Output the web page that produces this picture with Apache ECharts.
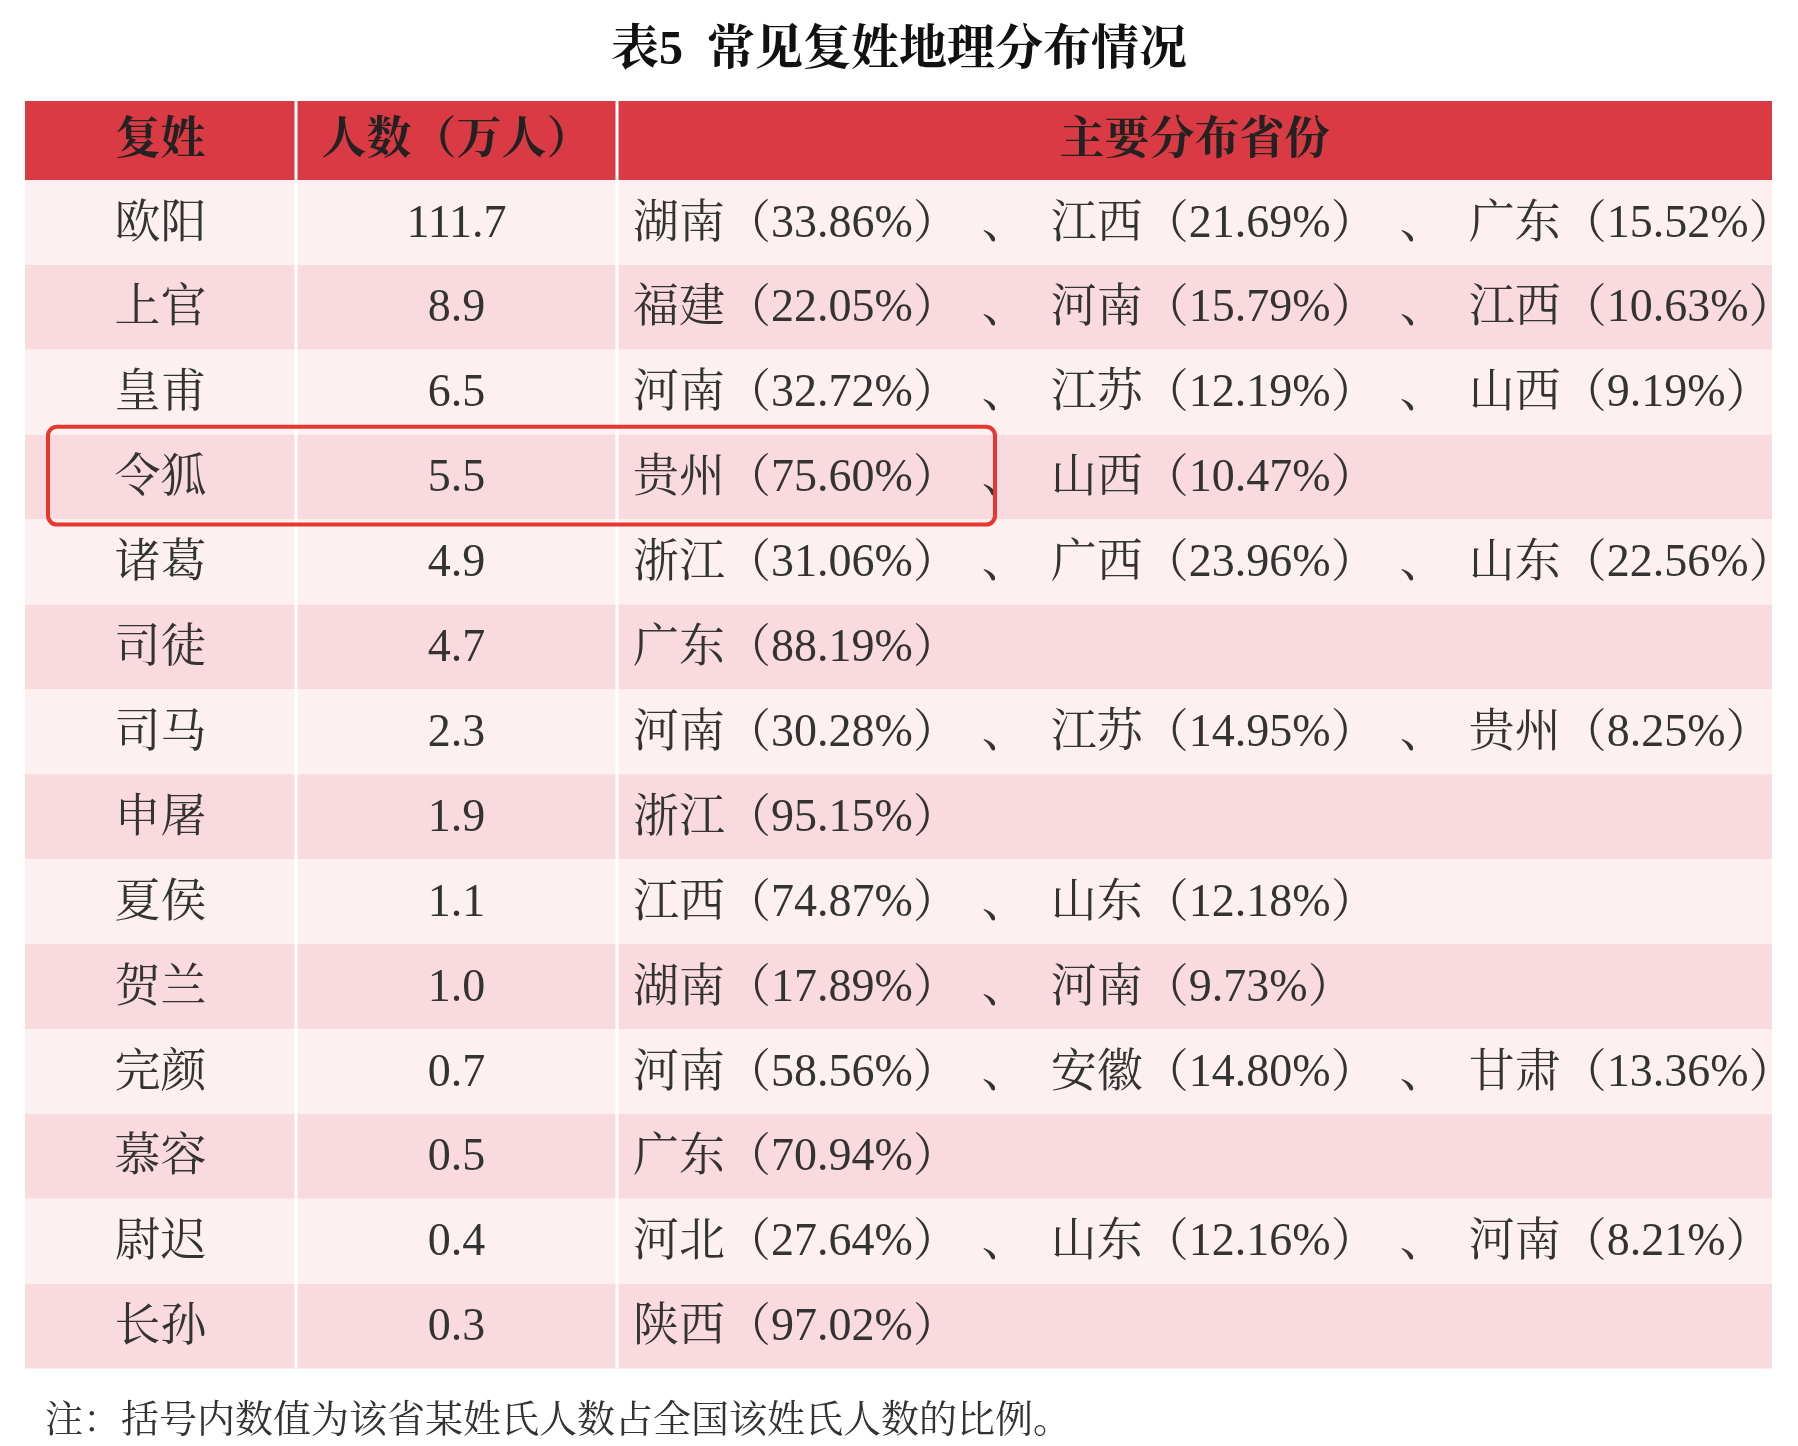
<!DOCTYPE html><html><head><meta charset="utf-8">
<script src="https://cdn.jsdelivr.net/npm/echarts@6/dist/echarts.min.js"></script>
<style>html,body{margin:0;padding:0;background:#fff}#c{width:1798px;height:1446px}</style></head><body><div id="c"></div>
<script>
const title = '表5  常见复姓地理分布情况';
const headers = ['复姓', '人数（万人）', '主要分布省份'];
const surnames = ['欧阳','上官','皇甫','令狐','诸葛','司徒','司马','申屠','夏侯','贺兰','完颜','慕容','尉迟','长孙'];
const population = ['111.7','8.9','6.5','5.5','4.9','4.7','2.3','1.9','1.1','1.0','0.7','0.5','0.4','0.3'];
const provinces = [
 '湖南（33.86%）、江西（21.69%）、广东（15.52%）',
 '福建（22.05%）、河南（15.79%）、江西（10.63%）',
 '河南（32.72%）、江苏（12.19%）、山西（9.19%）',
 '贵州（75.60%）、山西（10.47%）',
 '浙江（31.06%）、广西（23.96%）、山东（22.56%）',
 '广东（88.19%）',
 '河南（30.28%）、江苏（14.95%）、贵州（8.25%）',
 '浙江（95.15%）',
 '江西（74.87%）、山东（12.18%）',
 '湖南（17.89%）、河南（9.73%）',
 '河南（58.56%）、安徽（14.80%）、甘肃（13.36%）',
 '广东（70.94%）',
 '河北（27.64%）、山东（12.16%）、河南（8.21%）',
 '陕西（97.02%）'
];
const highlightRow = 3;
const note = '注：括号内数值为该省某姓氏人数占全国该姓氏人数的比例。';

const X0=25, X1=296, X2=617, X3=1772, HY=101, HH=79, RY=180, RH=84.9;
const FONT='"Liberation Serif","Noto Serif CJK SC","Noto Sans CJK SC",serif';
const g=[];
g.push({type:'text',x:899,y:52,style:{text:title,font:'bold 48px '+FONT,fill:'#111',align:'center',verticalAlign:'middle'}});
g.push({type:'rect',shape:{x:X0,y:HY,width:X3-X0,height:HH},style:{fill:'#d93a44'}});
const cx=[(X0+X1)/2,(X1+X2)/2,(X2+X3)/2];
headers.forEach((h,i)=>g.push({type:'text',x:cx[i],y:HY+HH/2+2,style:{text:h,font:'bold 45px '+FONT,fill:'#222',align:'center',verticalAlign:'middle'}}));
surnames.forEach((s,r)=>{
  const y=RY+r*RH;
  g.push({type:'rect',shape:{x:X0,y:y,width:X3-X0,height:RH},style:{fill:r%2?'#f9dadf':'#fdf0f1'}});
  const ty=y+RH/2+2;
  g.push({type:'text',x:cx[0],y:ty,style:{text:s,font:'46px '+FONT,fill:'#333',align:'center',verticalAlign:'middle'}});
  g.push({type:'text',x:cx[1],y:ty,style:{text:population[r],font:'46px '+FONT,fill:'#333',align:'center',verticalAlign:'middle'}});
  g.push({type:'text',x:633,y:ty,style:{text:provinces[r].replace(/、/g,'\u2002、\u2002'),font:'46px '+FONT,fill:'#333',align:'left',verticalAlign:'middle'}});
});
[X1,X2].forEach(x=>g.push({type:'line',shape:{x1:x,y1:HY,x2:x,y2:RY+surnames.length*RH},style:{stroke:'#fff',lineWidth:3}}));
g.push({type:'rect',shape:{x:48,y:RY+highlightRow*RH-8,width:947,height:RH+13,r:9},style:{fill:'none',stroke:'#e8372e',lineWidth:4}});
g.push({type:'text',x:45,y:1422,style:{text:note,font:'38px '+FONT,fill:'#333',align:'left',verticalAlign:'middle'}});
const ch=echarts.init(document.getElementById('c'));
ch.setOption({backgroundColor:'#fff',animation:false,graphic:{elements:g}});
</script></body></html>
